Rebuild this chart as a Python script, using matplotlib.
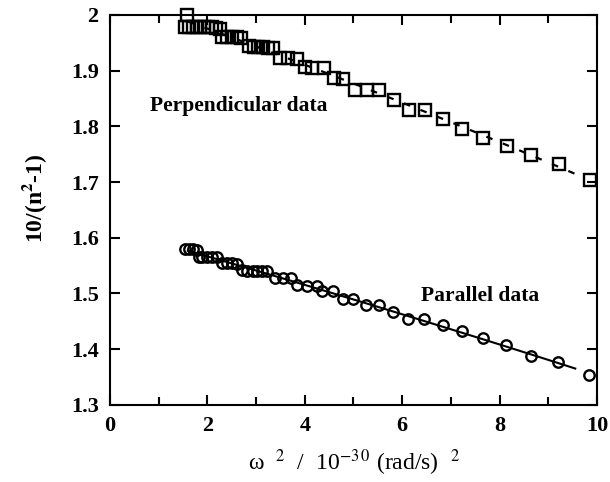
import numpy as np
import matplotlib
matplotlib.use("Agg")
import matplotlib.pyplot as plt
from matplotlib.ticker import MultipleLocator

plt.rcParams['font.family'] = ['Liberation Serif', 'DejaVu Serif']
plt.rcParams['mathtext.fontset'] = 'stix'

# perpendicular data (squares)
perp_x = [1.58, 1.55, 1.62, 1.7, 1.78, 1.86, 1.94, 2.02, 2.1, 2.18, 2.26,
          2.3, 2.4, 2.5, 2.6, 2.7, 2.85, 2.95, 3.05, 3.15, 3.25, 3.35,
          3.5, 3.65, 3.85, 4.0, 4.15, 4.4, 4.6, 4.78, 5.03, 5.28, 5.52,
          5.83, 6.14, 6.47, 6.84, 7.23, 7.66, 8.15, 8.64, 9.22, 9.86]
perp_y = [2.000, 1.978, 1.978, 1.978, 1.978, 1.978, 1.978, 1.978, 1.978, 1.977, 1.975,
          1.961, 1.960, 1.960, 1.960, 1.959, 1.945, 1.942, 1.942, 1.942, 1.941, 1.940,
          1.922, 1.922, 1.921, 1.906, 1.904, 1.904, 1.887, 1.885, 1.866, 1.866, 1.866,
          1.848, 1.830, 1.830, 1.813, 1.796, 1.779, 1.765, 1.749, 1.733, 1.703]

# parallel data (circles)
par_x = [1.55, 1.62, 1.7, 1.78, 1.82, 1.9, 2.0, 2.1, 2.2, 2.3, 2.4, 2.5,
         2.6, 2.72, 2.82, 2.93, 3.03, 3.13, 3.23, 3.38, 3.55, 3.72,
         3.85, 4.05, 4.25, 4.35, 4.58, 4.78, 5.0, 5.26, 5.52, 5.81, 6.12,
         6.45, 6.83, 7.23, 7.66, 8.13, 8.64, 9.2, 9.84]
par_y = [1.579, 1.579, 1.579, 1.578, 1.566, 1.566, 1.566, 1.566, 1.565, 1.555, 1.554, 1.554,
         1.553, 1.542, 1.541, 1.541, 1.541, 1.540, 1.540, 1.528, 1.528, 1.527,
         1.515, 1.514, 1.513, 1.504, 1.504, 1.490, 1.490, 1.479, 1.479, 1.466, 1.454,
         1.454, 1.443, 1.432, 1.420, 1.407, 1.387, 1.377, 1.354]

fig = plt.figure(figsize=(6.1, 4.82), dpi=100)
ax = fig.add_axes([0.180, 0.160, 0.799, 0.809])

# fitted curves through the data
pp = np.polyfit(perp_x, perp_y, 2)
fx = np.linspace(1.6, 9.65, 100)
ax.plot(fx, np.polyval(pp, fx), color='black', lw=1.6, ls=(0, (3, 5)))
pq = np.polyfit(par_x, par_y, 2)
fx2 = np.linspace(1.6, 9.55, 100)
ax.plot(fx2, np.polyval(pq, fx2), color='black', lw=1.5)

ax.plot(perp_x, perp_y, ls='none', marker='s', ms=8.5, mfc='none', mec='black', mew=1.7, clip_on=False)
ax.plot(par_x, par_y, ls='none', marker='o', ms=7.5, mfc='none', mec='black', mew=1.7, clip_on=False)

ax.text(2.65, 1.836, 'Perpendicular data', fontsize=15.5, fontweight='bold', ha='center', va='center')
ax.text(7.6, 1.495, 'Parallel data', fontsize=15.5, fontweight='bold', ha='center', va='center')

ax.set_xlim(0, 10)
ax.set_ylim(1.3, 2.0)
ax.xaxis.set_major_locator(MultipleLocator(2))
ax.xaxis.set_minor_locator(MultipleLocator(1))
ax.set_yticks([1.3, 1.4, 1.5, 1.6, 1.7, 1.8, 1.9, 2.0])
ax.set_yticklabels(['1.3', '1.4', '1.5', '1.6', '1.7', '1.8', '1.9', '2'])
ax.tick_params(which='both', direction='in', top=True, right=True, width=1.5)
ax.tick_params(which='major', length=7, labelsize=16, pad=8)
ax.tick_params(which='minor', length=6)
for lab in ax.get_xticklabels() + ax.get_yticklabels():
    lab.set_fontweight('bold')
for s in ax.spines.values():
    s.set_linewidth(1.5)

ax.set_ylabel('10/(n$^{\\mathbf{2}}$-1)', fontsize=17, fontweight='bold', labelpad=14)
ax.yaxis.set_label_coords(-0.125, 0.53)
ax.set_xlabel('ω  $^{2}$  /  10$^{-3\\,0}$ (rad/s)  $^{2}$', fontsize=17, labelpad=8)

fig.savefig('out.png', dpi=100)
